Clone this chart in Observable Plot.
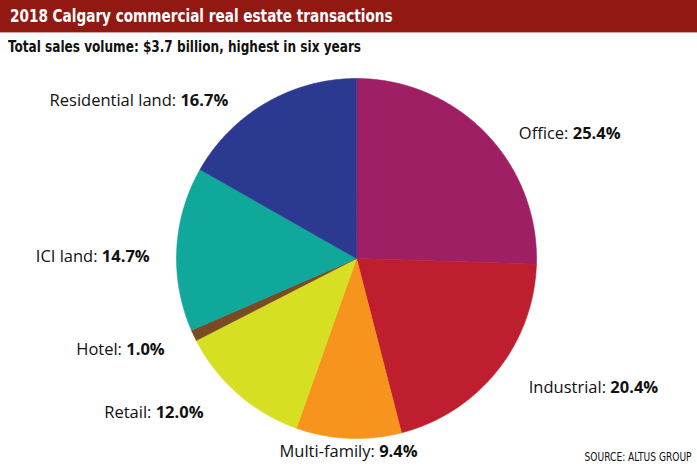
<!DOCTYPE html>
<html>
<head>
<meta charset="utf-8">
<script src="https://cdn.jsdelivr.net/npm/d3@7"></script>
<script src="https://cdn.jsdelivr.net/npm/@observablehq/plot@0.6"></script>
<style>
  html, body { margin: 0; padding: 0; background: #fff; }
  #wrap { position: relative; width: 697px; height: 469px; overflow: hidden; }
  #title { position: absolute; left: 0; top: 0; width: 697px; height: 32px; background: #921812;
    border-bottom: 1px solid #d9a0a0; }
  #title span { position: absolute; left: 10px; top: 0; line-height: 32px; color: #fff;
    font-family: "DejaVu Sans Condensed", sans-serif; font-weight: bold; font-size: 17px;
    white-space: nowrap; transform-origin: 0 50%; transform: scaleX(0.89); }
  #subtitle { position: absolute; left: 8px; top: 37px; font-family: "DejaVu Sans Condensed", sans-serif;
    font-weight: bold; font-size: 16px; color: #111; white-space: nowrap;
    transform-origin: 0 50%; transform: scaleX(0.84); }
  #chart { position: absolute; left: 0; top: 60px; }
  #source { position: absolute; right: 5px; top: 450px; font-family: "DejaVu Sans Condensed", sans-serif;
    font-size: 11.5px; color: #111; white-space: nowrap; transform-origin: 100% 50%; transform: scaleX(0.88); }
</style>
</head>
<body>
<div id="wrap">
  <div id="title"><span>2018 Calgary commercial real estate transactions</span></div>
  <div id="subtitle">Total sales volume: $3.7 billion, highest in six years</div>
  <div id="chart"></div>
  <div id="source">SOURCE: ALTUS GROUP</div>
</div>
<script>
const categories = ["Office", "Industrial", "Multi-family", "Retail", "Hotel", "ICI land", "Residential land"];
const shares = [25.4, 20.4, 9.4, 12.0, 1.0, 14.7, 16.7];
const colors = ["#9e1f63", "#be1e2d", "#f7941d", "#d7df23", "#7a4a24", "#10a89b", "#2b3990"];

const pie = d3.pie().sort(null).value(d => d)(shares);

// Slice outlines in unit-circle data space (angle clockwise from 12 o'clock)
const slicePts = [];
pie.forEach((p, i) => {
  const n = Math.max(4, Math.ceil((p.endAngle - p.startAngle) / 0.01));
  slicePts.push({cat: categories[i], x: 0, y: 0});
  for (let k = 0; k <= n; k++) {
    const a = p.startAngle + (p.endAngle - p.startAngle) * k / n;
    slicePts.push({cat: categories[i], x: Math.sin(a), y: Math.cos(a)});
  }
});

// label anchors derived from each slice's mid-angle
const labels = pie.map((p, i) => {
  const a = (p.startAngle + p.endAngle) / 2;
  const sx = Math.sin(a), cy = Math.cos(a);
  const side = sx > 0.3 ? "start" : sx < -0.3 ? "end" : "middle";
  return {
    cat: categories[i],
    text: categories[i] + ": " + shares[i].toFixed(1) + "%",
    x: side === "middle" ? sx : 0.88 * sx + 0.27 * Math.sign(sx),
    y: 1.07 * cy,
    side
  };
});

const textOpts = side => ({
  x: "x", y: "y", text: "text", dy: side === "middle" ? 1 : 9,
  textAnchor: side, fontSize: 16.5, fill: "#111",
  fontFamily: "'Open Sans', 'Noto Sans', sans-serif"
});

const chart = Plot.plot({
  width: 697,
  height: 409,
  margin: 0,
  x: {domain: [-1, 1], range: [176, 536], axis: null},
  y: {domain: [-1, 1], range: [378, 18], axis: null},
  color: {domain: categories, range: colors},
  marks: [
    Plot.line(slicePts, {x: "x", y: "y", z: "cat", fill: "cat", stroke: "cat", strokeWidth: 0.6, curve: "linear-closed"}),
    Plot.text(labels.filter(d => d.side === "start"), textOpts("start")),
    Plot.text(labels.filter(d => d.side === "end"), textOpts("end")),
    Plot.text(labels.filter(d => d.side === "middle"), textOpts("middle"))
  ]
});

// bold the percentage part of each label
d3.select(chart).selectAll("g[aria-label='text'] text").each(function() {
  const t = d3.select(this);
  const s = t.text();
  const idx = s.lastIndexOf(": ");
  t.text(null);
  t.append("tspan").text(s.slice(0, idx + 2));
  t.append("tspan").attr("font-weight", "bold").text(s.slice(idx + 2));
});

document.getElementById("chart").appendChild(chart);
</script>
</body>
</html>
